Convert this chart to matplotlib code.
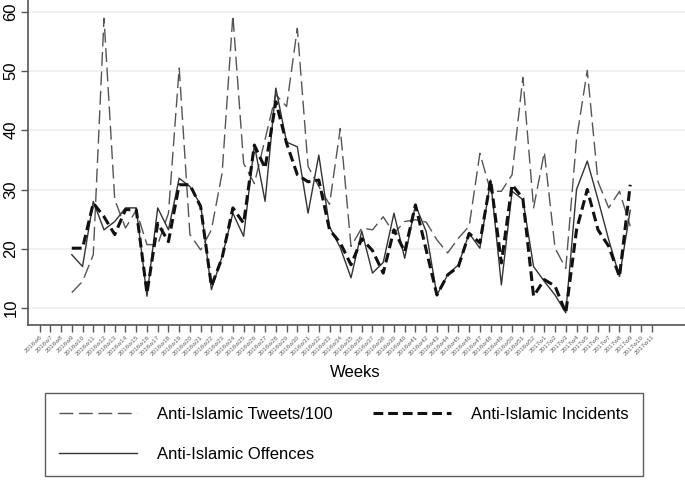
import matplotlib

matplotlib.use("Agg")

import matplotlib.pyplot as plt
from matplotlib.lines import Line2D


# Week labels on the x axis: 2016w6 .. 2016w52, 2017w1 .. 2017w11
WEEK_LABELS = [f"2016w{w}" for w in range(6, 53)] + [f"2017w{w}" for w in range(1, 12)]

# Data runs from 2016w9 to 2017w9
DATA_WEEKS = WEEK_LABELS[3:56]

TWEETS_100 = [
    12.6, 14.5, 19.0, 58.9, 28.3, 23.5, 26.5, 20.7, 20.7, 26.0,
    50.5, 22.4, 19.8, 23.2, 32.8, 59.4, 34.4, 31.0, 38.5, 46.0,
    44.0, 57.2, 33.9, 30.5, 27.5, 40.3, 20.4, 23.5, 23.2, 25.4,
    22.6, 24.6, 24.9, 24.5, 21.5, 19.3, 21.8, 23.8, 36.1, 29.7,
    29.7, 32.5, 48.9, 26.9, 36.3, 20.1, 16.7, 38.5, 50.1, 31.3,
    26.9, 29.7, 23.8,
]

INCIDENTS = [
    20.1, 20.1, 27.7, 25.4, 22.4, 26.6, 26.6, 12.5, 24.3, 21.2,
    30.8, 30.8, 27.1, 13.7, 18.5, 26.9, 24.3, 37.5, 33.6, 44.8,
    37.8, 32.5, 31.3, 31.6, 23.2, 21.0, 17.3, 21.7, 19.7, 15.9,
    23.2, 19.5, 27.4, 19.8, 12.2, 15.6, 17.0, 22.6, 21.0, 31.6,
    17.6, 30.8, 28.5, 12.0, 14.8, 13.7, 9.2, 23.2, 30.0, 23.2,
    20.4, 15.3, 30.8,
]

OFFENCES = [
    19.0, 17.0, 28.0, 23.2, 24.6, 26.9, 26.9, 12.0, 26.9, 23.2,
    31.9, 30.5, 27.4, 13.1, 18.7, 26.0, 22.1, 37.5, 28.0, 47.1,
    38.0, 37.2, 26.0, 35.8, 23.7, 20.2, 15.1, 23.0, 15.9, 17.7,
    26.0, 18.4, 27.4, 22.9, 12.2, 15.6, 17.3, 22.6, 20.1, 31.6,
    13.9, 29.7, 28.3, 17.0, 14.5, 12.2, 9.2, 30.0, 34.8, 28.3,
    21.5, 15.3, 26.5,
]

Y_TICKS = [10, 20, 30, 40, 50, 60]

TWEET_STYLE = dict(color="#555555", linewidth=1.0, linestyle=(0, (10, 4)))
INCIDENT_STYLE = dict(color="#111111", linewidth=2.2, linestyle=(0, (3.2, 1.6)))
OFFENCE_STYLE = dict(color="#333333", linewidth=1.0, linestyle="-")


def main() -> None:
    plt.rcParams["font.family"] = ["Liberation Sans", "DejaVu Sans"]

    fig = plt.figure(figsize=(6.85, 4.87), dpi=100)
    ax = fig.add_axes([0.041, 0.333, 0.959, 0.667])

    pos = {lab: i for i, lab in enumerate(WEEK_LABELS)}
    xs = [pos[w] for w in DATA_WEEKS]

    ax.plot(xs, TWEETS_100, **TWEET_STYLE, zorder=3)
    ax.plot(xs, OFFENCES, **OFFENCE_STYLE, zorder=4)
    ax.plot(xs, INCIDENTS, **INCIDENT_STYLE, zorder=5)

    ax.set_xlim(-1.07, 60.1)
    ax.set_ylim(7.17, 61.97)

    ax.set_yticks(Y_TICKS)
    ax.set_yticklabels([str(v) for v in Y_TICKS], rotation=90, va="center", fontsize=12)
    ax.yaxis.grid(True, color="#eeeeee", linewidth=1.2, zorder=0)
    ax.set_axisbelow(True)

    ax.set_xticks(range(len(WEEK_LABELS)))
    ax.set_xticklabels(WEEK_LABELS, rotation=45, ha="right", rotation_mode="anchor",
                       fontsize=4.6, color="#606060")
    ax.tick_params(axis="x", length=5, width=1.0, color="#555555", pad=2)
    ax.tick_params(axis="y", length=5, width=1.0, color="#555555", pad=2)

    for side in ["top", "right"]:
        ax.spines[side].set_visible(False)
    for side in ["left", "bottom"]:
        ax.spines[side].set_color("#555555")
        ax.spines[side].set_linewidth(1.2)

    fig.text(0.518, 0.236, "Weeks", ha="center", va="center", fontsize=12)

    handles = [
        Line2D([], [], **TWEET_STYLE),
        Line2D([], [], **INCIDENT_STYLE),
        Line2D([], [], **OFFENCE_STYLE),
    ]
    labels = ["Anti-Islamic Tweets/100", "Anti-Islamic Incidents", "Anti-Islamic Offences"]
    # column 1 = tweets, offences; column 2 = incidents
    order = [0, 2, 1]
    leg = fig.legend(
        [handles[i] for i in order],
        [labels[i] for i in order],
        loc="upper center",
        bbox_to_anchor=(0.502, 0.193),
        ncol=2,
        fontsize=12,
        handlelength=4.7,
        handletextpad=1.2,
        columnspacing=2.4,
        labelspacing=1.5,
        borderpad=0.85,
        borderaxespad=0.0,
        fancybox=False,
        frameon=True,
    )
    leg.get_frame().set_edgecolor("#333333")
    leg.get_frame().set_linewidth(1.0)

    fig.savefig("out.png", dpi=100, facecolor="white")
    plt.close(fig)


if __name__ == "__main__":
    main()
